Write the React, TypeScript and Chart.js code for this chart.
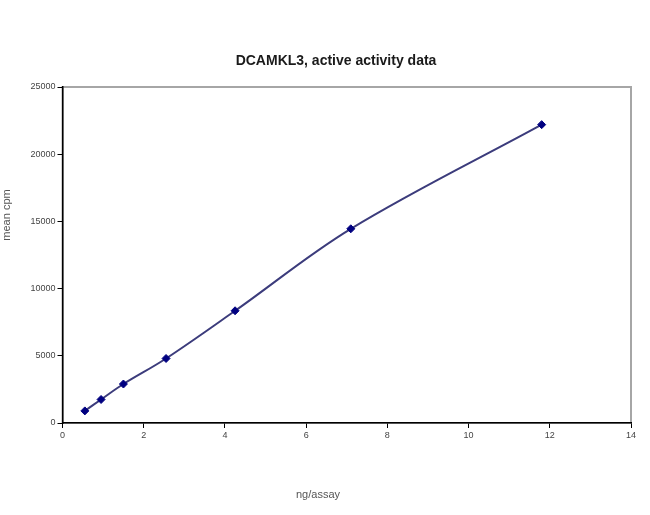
import React, { useEffect, useRef } from "react";
import { Chart, registerables } from "chart.js";

Chart.register(...registerables);

const TITLE = "DCAMKL3, active activity data";
const X_LABEL = "ng/assay";
const Y_LABEL = "mean cpm";

const ngPerAssay = [0.55, 0.95, 1.5, 2.55, 4.25, 7.1, 11.8];
const meanCpm = [900, 1750, 2900, 4800, 8350, 14450, 22200];

const X_MIN = 0;
const X_MAX = 14;
const X_STEP = 2;
const Y_MIN = 0;
const Y_MAX = 25000;
const Y_STEP = 5000;

const FONT = "'Liberation Sans', Arial, sans-serif";

const textPlugin = {
  id: "excelTexts",
  beforeDraw(chart: any) {
    const { ctx, chartArea } = chart;
    ctx.save();
    ctx.strokeStyle = "#a6a6a6";
    ctx.lineWidth = 2;
    ctx.strokeRect(chartArea.left, chartArea.top, chartArea.right - chartArea.left, chartArea.bottom - chartArea.top);
    ctx.restore();
  },
  afterDraw(chart: any) {
    const { ctx } = chart;
    ctx.save();
    ctx.textAlign = "center";
    ctx.textBaseline = "middle";
    ctx.fillStyle = "#1a1a1a";
    ctx.font = `bold 14px ${FONT}`;
    ctx.fillText(TITLE, 336, 61);
    ctx.fillStyle = "#555";
    ctx.font = `11px ${FONT}`;
    ctx.fillText(X_LABEL, 318, 495);
    ctx.translate(7, 215);
    ctx.rotate(-Math.PI / 2);
    ctx.fillText(Y_LABEL, 0, 0);
    ctx.restore();
  },
};

export default function App() {
  const ref = useRef<HTMLCanvasElement | null>(null);
  useEffect(() => {
    if (!ref.current) return;
    const chart = new Chart(ref.current, {
      type: "line",
      data: {
        datasets: [
          {
            data: ngPerAssay.map((x, i) => ({ x, y: meanCpm[i] })),
            borderColor: "#3c3c7c",
            borderWidth: 2,
            tension: 0.35,
            pointStyle: "rectRot",
            pointRadius: 4,
            pointBackgroundColor: "#000080",
            pointBorderColor: "#000080",
            pointBorderWidth: 1,
          },
        ],
      },
      options: {
        responsive: false,
        animation: false,
        layout: { padding: { left: 0, right: 0, top: 87, bottom: 0 } },
        plugins: {
          legend: { display: false },
          title: { display: false },
          tooltip: { enabled: false },
        },
        scales: {
          x: {
            type: "linear",
            min: X_MIN,
            max: X_MAX,
            ticks: {
              stepSize: X_STEP,
              font: { family: FONT, size: 9 },
              color: "#444",
              padding: 2,
              maxRotation: 0,
              callback: (v: any) => String(v),
            },
            grid: { drawOnChartArea: false, drawTicks: true, tickLength: 5, color: "#000" },
            border: { color: "#000", width: 1.5 },
            afterFit: (s: any) => {
              s.height = 515 - 423;
              s.paddingRight = 19;
            },
          },
          y: {
            type: "linear",
            min: Y_MIN,
            max: Y_MAX,
            ticks: {
              stepSize: Y_STEP,
              font: { family: FONT, size: 9 },
              color: "#444",
              padding: 2,
              callback: (v: any) => String(v),
            },
            grid: { drawOnChartArea: false, drawTicks: true, tickLength: 5, color: "#000" },
            border: { color: "#000", width: 1.5 },
            afterFit: (s: any) => {
              s.width = 62.5;
            },
          },
        },
      },
      plugins: [textPlugin],
    });
    return () => chart.destroy();
  }, []);
  return (
    <div style={{ position: "fixed", left: 0, top: 0, width: 650, height: 515, background: "#fff" }}>
      <canvas ref={ref} width={650} height={515} style={{ display: "block" }} />
    </div>
  );
}
